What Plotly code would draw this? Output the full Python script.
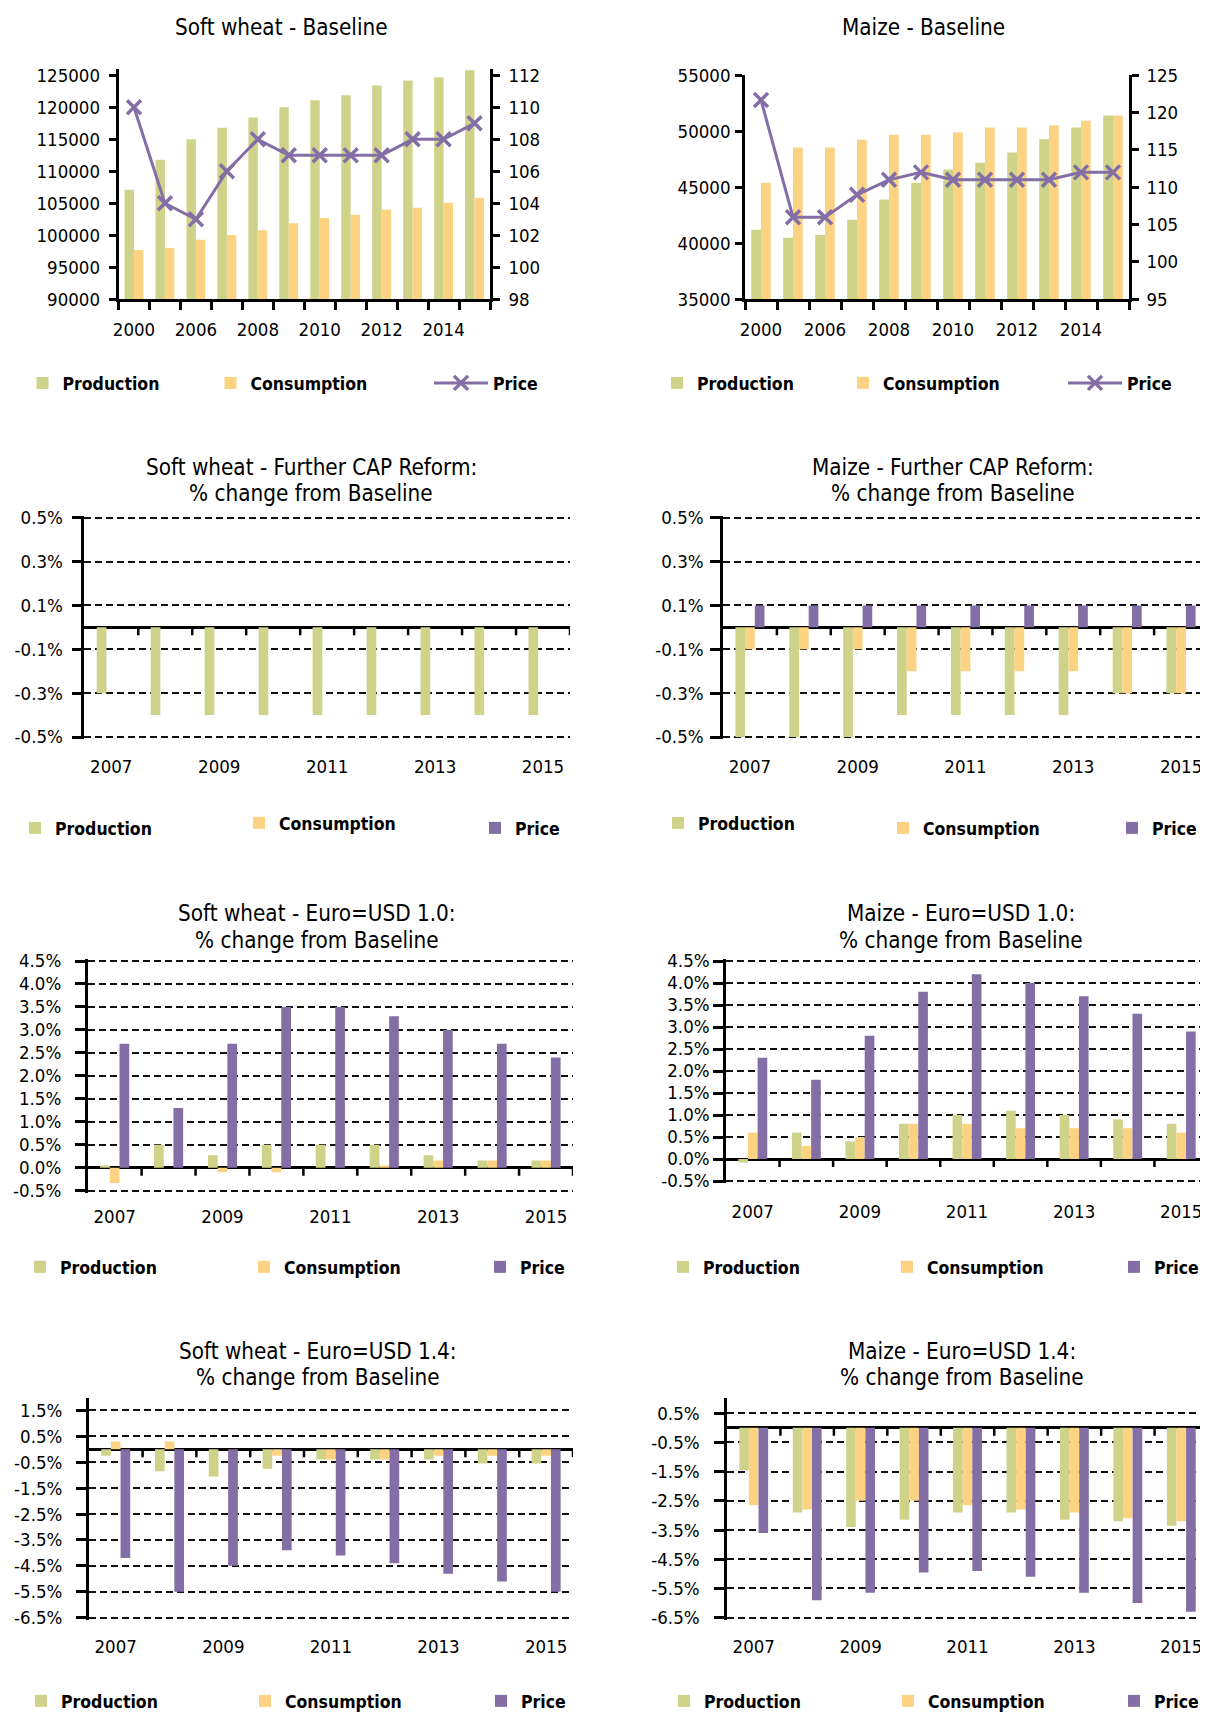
import plotly.graph_objects as go

# The page body has an 8px default margin; positions below are page pixels.
PAGE_W, PAGE_H = 1208, 1713
OFF = 8
W, H = PAGE_W - OFF, PAGE_H - OFF
FONT = "DejaVu Sans Condensed, Liberation Sans Narrow, Arial Narrow, Liberation Sans, sans-serif"
GREEN, ORANGE, PURPLE = "#CFD38A", "#FCD383", "#846EA6"

# ---------------- data ----------------
BASE_YEARS = ["2000", "2005", "2006", "2007", "2008", "2009", "2010", "2011", "2012", "2013", "2014", "2015"]
SW_BASE_PROD = [107100, 111800, 115000, 116800, 118400, 120000, 121100, 121900, 123400, 124200, 124700, 125800]
SW_BASE_CONS = [97700, 98000, 99300, 100050, 100800, 101900, 102700, 103200, 104000, 104300, 105100, 105850]
SW_BASE_PRICE = [110, 104, 103, 106, 108, 107, 107, 107, 107, 108, 108, 109]
MZ_BASE_PROD = [41200, 40500, 40750, 42100, 43900, 45400, 46600, 47200, 48100, 49300, 50350, 51400]
MZ_BASE_CONS = [45400, 48550, 48550, 49250, 49700, 49700, 49900, 50350, 50350, 50550, 50950, 51400]
MZ_BASE_PRICE = [121.7, 106, 106, 109, 111, 112, 111, 111, 111, 111, 112, 112]

SCEN_YEARS = ["2007", "2008", "2009", "2010", "2011", "2012", "2013", "2014", "2015"]
SW_CAP_PROD = [-0.3, -0.4, -0.4, -0.4, -0.4, -0.4, -0.4, -0.4, -0.4]
SW_CAP_CONS = [0, 0, 0, 0, 0, 0, 0, 0, 0]
SW_CAP_PRICE = [0, 0, 0, 0, 0, 0, 0, 0, 0]
MZ_CAP_PROD = [-0.5, -0.5, -0.5, -0.4, -0.4, -0.4, -0.4, -0.3, -0.3]
MZ_CAP_CONS = [-0.1, -0.1, -0.1, -0.2, -0.2, -0.2, -0.2, -0.3, -0.3]
MZ_CAP_PRICE = [0.1, 0.1, 0.1, 0.1, 0.1, 0.1, 0.1, 0.1, 0.1]
SW_E10_PROD = [0.05, 0.5, 0.27, 0.5, 0.5, 0.5, 0.27, 0.16, 0.16]
SW_E10_CONS = [-0.33, 0, -0.1, -0.1, 0, 0.05, 0.16, 0.16, 0.16]
SW_E10_PRICE = [2.7, 1.3, 2.7, 3.5, 3.5, 3.3, 3.0, 2.7, 2.4]
MZ_E10_PROD = [-0.08, 0.6, 0.4, 0.8, 1.0, 1.1, 1.0, 0.9, 0.8]
MZ_E10_CONS = [0.6, 0.3, 0.5, 0.8, 0.8, 0.7, 0.7, 0.7, 0.6]
MZ_E10_PRICE = [2.3, 1.8, 2.8, 3.8, 4.2, 4.0, 3.7, 3.3, 2.9]
SW_E14_PROD = [-0.25, -0.85, -1.05, -0.75, -0.4, -0.4, -0.4, -0.55, -0.55]
SW_E14_CONS = [0.3, 0.3, 0, -0.25, -0.4, -0.4, -0.25, -0.25, -0.25]
SW_E14_PRICE = [-4.2, -5.5, -4.5, -3.9, -4.1, -4.4, -4.8, -5.1, -5.5]
MZ_E14_PROD = [-1.45, -2.9, -3.4, -3.15, -2.9, -2.9, -3.15, -3.2, -3.35]
MZ_E14_CONS = [-2.65, -2.8, -2.5, -2.5, -2.65, -2.8, -2.9, -3.1, -3.2]
MZ_E14_PRICE = [-3.6, -5.9, -5.65, -4.95, -4.9, -5.1, -5.65, -6.0, -6.3]

# tick values
SW_BASE_TICKS = [90000, 95000, 100000, 105000, 110000, 115000, 120000, 125000]
SW_PRICE_TICKS = [98, 100, 102, 104, 106, 108, 110, 112]
MZ_BASE_TICKS = [35000, 40000, 45000, 50000, 55000]
MZ_PRICE_TICKS = [95, 100, 105, 110, 115, 120, 125]
CAP_TICKS = [-0.5, -0.3, -0.1, 0.1, 0.3, 0.5]
E10_TICKS = [-0.5, 0.0, 0.5, 1.0, 1.5, 2.0, 2.5, 3.0, 3.5, 4.0, 4.5]
SW_E14_TICKS = [-6.5, -5.5, -4.5, -3.5, -2.5, -1.5, -0.5, 0.5, 1.5]
MZ_E14_TICKS = [-6.5, -5.5, -4.5, -3.5, -2.5, -1.5, -0.5, 0.5]

NAMES = ["Production", "Consumption", "Price"]

TITLE_SIZE = 22.3
TICK_SIZE = 18.5
LEGEND_SIZE = 17.5


def fx(px):
    return (px - OFF) / W


def fy(py):
    return 1 - (py - OFF) / H


def names(k):
    if k == 1:
        return "xaxis", "yaxis", "x", "y"
    return f"xaxis{k}", f"yaxis{k}", f"x{k}", f"y{k}"


fig = go.Figure()
layout = {}
shapes = []
annotations = []
legend_n = [0]


def new_legend(cx, cy, itemwidth=30, dx=-3):
    legend_n[0] += 1
    n = legend_n[0]
    key = "legend" if n == 1 else f"legend{n}"
    center = (itemwidth + 10) / 2
    layout[key] = dict(x=fx(cx - center - 1 + dx), y=fy(cy), xanchor="left", yanchor="middle",
                       orientation="h", bgcolor="rgba(0,0,0,0)", borderwidth=0,
                       itemwidth=itemwidth,
                       font=dict(family=FONT, size=LEGEND_SIZE, color="black", weight="bold"))
    return key


def add_titles(lines):
    for text, cx, cy in lines:
        annotations.append(dict(text=text, x=fx(cx), y=fy(cy), xref="paper", yref="paper",
                                showarrow=False, xanchor="center", yanchor="middle",
                                font=dict(family=FONT, size=TITLE_SIZE, color="black")))


TICKFONT = dict(family=FONT, size=TICK_SIZE, color="black")

# ---------------- baseline panels ----------------
BASE_PANELS = [
    dict(k=1, rk=9, box=(118.5, 490, 68.9, 299.3), prod=SW_BASE_PROD, cons=SW_BASE_CONS, price=SW_BASE_PRICE,
         yr=[90000, 126000], yt=SW_BASE_TICKS, pr=[98, 112.4], pt=SW_PRICE_TICKS, ys=5, ps=5,
         titles=[("Soft wheat - Baseline", 281.5, 27)],
         leg=[(46.5, 383), (234.5, 383), (464, 383)]),
    dict(k=2, rk=10, box=(745, 1129, 75.3, 299.3), prod=MZ_BASE_PROD, cons=MZ_BASE_CONS, price=MZ_BASE_PRICE,
         yr=[35000, 55000], yt=MZ_BASE_TICKS, pr=[95, 125], pt=MZ_PRICE_TICKS, ys=1, ps=4,
         titles=[("Maize - Baseline", 923, 27)],
         leg=[(681, 383), (867, 383), (1098, 383)]),
]

for p in BASE_PANELS:
    k = p["k"]
    xk, yk, xr, yr = names(k)
    rk = f"yaxis{p['rk']}"
    rr = f"y{p['rk']}"
    x0, x1, yt, yb = p["box"]
    idx = list(range(len(BASE_YEARS)))
    fig.add_trace(go.Bar(x=idx, y=p["prod"], name="Production", marker=dict(color=GREEN, line=dict(width=0)),
                         width=0.305, offset=-0.305, xaxis=xr, yaxis=yr,
                         legend=new_legend(*p["leg"][0])))
    fig.add_trace(go.Bar(x=idx, y=p["cons"], name="Consumption", marker=dict(color=ORANGE, line=dict(width=0)),
                         width=0.305, offset=0.0, xaxis=xr, yaxis=yr,
                         legend=new_legend(*p["leg"][1])))
    fig.add_trace(go.Scatter(x=idx, y=p["price"], name="Price", mode="lines+markers",
                             line=dict(color=PURPLE, width=3),
                             marker=dict(symbol="x-thin", size=14, color=PURPLE, line=dict(width=3.5, color=PURPLE)),
                             xaxis=xr, yaxis=rr, legend=new_legend(*p["leg"][2], itemwidth=54, dx=-2)))
    layout[xk] = dict(domain=[fx(x0), fx(x1)], anchor=yr, range=[-0.5, len(idx) - 0.5],
                      tickmode="array", tickvals=idx[::2], ticktext=BASE_YEARS[::2],
                      showline=True, linecolor="black", linewidth=2.5, ticks="",
                      minor=dict(tickmode="linear", tick0=-0.5, dtick=1, ticks="outside", ticklen=8,
                                 tickwidth=2.5, tickcolor="black", showgrid=False),
                      showgrid=False, zeroline=False, ticklabelstandoff=12, tickfont=TICKFONT)
    layout[yk] = dict(domain=[fy(yb), fy(yt)], anchor=xr, range=p["yr"], tickmode="array",
                      tickvals=p["yt"], ticktext=[str(v) for v in p["yt"]],
                      showline=True, linecolor="black", linewidth=2.5, ticks="outside", ticklen=7,
                      tickwidth=2.5, tickcolor="black", showgrid=False, zeroline=False,
                      ticklabelstandoff=int(p["ys"]), tickfont=TICKFONT)
    layout[rk] = dict(overlaying=yr, side="right", anchor=xr, range=p["pr"], tickmode="array",
                      tickvals=p["pt"], ticktext=[str(v) for v in p["pt"]],
                      showline=True, linecolor="black", linewidth=2.5, ticks="outside", ticklen=7,
                      tickwidth=2.5, tickcolor="black", showgrid=False, zeroline=False,
                      ticklabelstandoff=int(p["ps"]), tickfont=TICKFONT)
    add_titles(p["titles"])

# ---------------- scenario panels ----------------
SCEN_PANELS = [
    dict(k=3, box=(84.3, 570, 517.7, 737), data=(SW_CAP_PROD, SW_CAP_CONS, SW_CAP_PRICE),
         yr=[-0.5, 0.5], yt=CAP_TICKS, ys=5, xs=14,
         titles=[("Soft wheat - Further CAP Reform:", 311, 467), ("% change from Baseline", 311, 493)],
         leg=[(39, 828), (263, 823), (499, 828)]),
    dict(k=4, box=(723, 1208, 517.7, 737), data=(MZ_CAP_PROD, MZ_CAP_CONS, MZ_CAP_PRICE),
         yr=[-0.5, 0.5], yt=CAP_TICKS, ys=3, xs=14,
         titles=[("Maize - Further CAP Reform:", 953, 467), ("% change from Baseline", 953, 493)],
         leg=[(682, 823), (907, 828), (1136, 828)]),
    dict(k=5, box=(87.7, 573, 961, 1190.7), data=(SW_E10_PROD, SW_E10_CONS, SW_E10_PRICE),
         yr=[-0.5, 4.5], yt=E10_TICKS, ys=10, xs=11,
         titles=[("Soft wheat - Euro=USD 1.0:", 316.5, 913), ("% change from Baseline", 316.5, 940)],
         leg=[(44, 1267), (268, 1267), (504, 1267)]),
    dict(k=6, box=(726, 1208, 961, 1181), data=(MZ_E10_PROD, MZ_E10_CONS, MZ_E10_PRICE),
         yr=[-0.5, 4.5], yt=E10_TICKS, ys=0, xs=15,
         titles=[("Maize - Euro=USD 1.0:", 961, 913), ("% change from Baseline", 961, 940)],
         leg=[(687, 1267), (911, 1267), (1138, 1267)]),
    dict(k=7, box=(88.8, 573, 1400, 1617.7), data=(SW_E14_PROD, SW_E14_CONS, SW_E14_PRICE),
         yr=[-6.5, 1.9], yt=SW_E14_TICKS, ys=10, xs=14,
         titles=[("Soft wheat - Euro=USD 1.4:", 318, 1351), ("% change from Baseline", 318, 1377)],
         leg=[(45, 1701), (269, 1701), (505, 1701)]),
    dict(k=8, box=(727, 1208, 1400, 1617.7), data=(MZ_E14_PROD, MZ_E14_CONS, MZ_E14_PRICE),
         yr=[-6.5, 0.95], yt=MZ_E14_TICKS, ys=11, xs=14,
         titles=[("Maize - Euro=USD 1.4:", 962, 1351), ("% change from Baseline", 962, 1377)],
         leg=[(688, 1701), (912, 1701), (1138, 1701)]),
]

COLORS = [GREEN, ORANGE, PURPLE]
OFFSETS = [-0.27, -0.09, 0.09]
PAD_PX = 2.0  # small padding so the edge grid lines are kept

for p in SCEN_PANELS:
    k = p["k"]
    xk, yk, xr, yr = names(k)
    x0, x1, yt, yb = p["box"]
    idx = list(range(len(SCEN_YEARS)))
    upp = (p["yr"][1] - p["yr"][0]) / (yb - yt)
    yrange = [p["yr"][0] - PAD_PX * upp, p["yr"][1] + PAD_PX * upp]
    for j in range(3):
        fig.add_trace(go.Bar(x=idx, y=p["data"][j], name=NAMES[j],
                             marker=dict(color=COLORS[j], line=dict(width=0)),
                             width=0.18, offset=OFFSETS[j], xaxis=xr, yaxis=yr,
                             legend=new_legend(*p["leg"][j])))
    layout[xk] = dict(domain=[fx(x0), fx(x1)], anchor=yr, range=[-0.5, len(idx) - 0.5],
                      tickmode="array", tickvals=idx[::2], ticktext=SCEN_YEARS[::2],
                      showline=False, ticks="", showgrid=False, zeroline=False,
                      ticklabelstandoff=int(p["xs"]), tickfont=TICKFONT)
    layout[yk] = dict(domain=[fy(yb + PAD_PX), fy(yt - PAD_PX)], anchor=xr, range=yrange, tickmode="array",
                      tickvals=p["yt"], ticktext=[f"{v:.1f}%" for v in p["yt"]],
                      showline=True, linecolor="black", linewidth=2.5, ticks="outside", ticklen=10,
                      tickwidth=2.5, tickcolor="black", showgrid=True, gridcolor="#111111",
                      griddash="7px,4px", gridwidth=1.5, zeroline=True, zerolinecolor="black",
                      zerolinewidth=2.5, ticklabelstandoff=int(p["ys"]), tickfont=TICKFONT)
    # category-boundary tick marks hanging from the zero line
    for i in idx:
        shapes.append(dict(type="line", xref=xr, yref=yr, x0=i + 0.5, x1=i + 0.5,
                           ysizemode="pixel", yanchor=0, y0=0, y1=-8,
                           line=dict(color="black", width=2.5)))
    add_titles(p["titles"])

layout.update(dict(width=W, height=H, autosize=False,
                   margin=dict(l=0, r=0, t=0, b=0, autoexpand=False),
                   paper_bgcolor="white", plot_bgcolor="white", barmode="group",
                   font=dict(family=FONT, size=TICK_SIZE, color="black"),
                   showlegend=True, shapes=shapes, annotations=annotations))
fig.update_layout(**layout)
fig.write_html("out.html")
